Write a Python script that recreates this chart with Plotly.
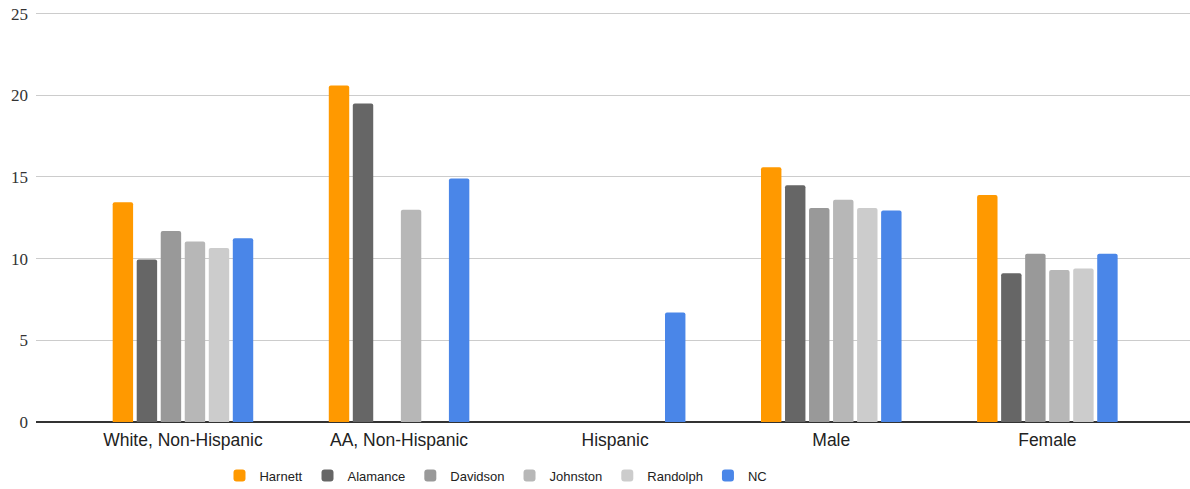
import plotly.graph_objects as go

categories = ["White, Non-Hispanic", "AA, Non-Hispanic", "Hispanic", "Male", "Female"]
series_names = ["Harnett", "Alamance", "Davidson", "Johnston", "Randolph", "NC"]
harnett = [13.45, 20.6, None, 15.6, 13.9]
alamance = [9.95, 19.5, None, 14.5, 9.1]
davidson = [11.7, None, None, 13.1, 10.3]
johnston = [11.05, 13.0, None, 13.6, 9.3]
randolph = [10.65, None, None, 13.1, 9.4]
nc = [11.25, 14.9, 6.7, 12.95, 10.3]
colors = ["#FF9900", "#666666", "#999999", "#B7B7B7", "#CCCCCC", "#4A86E8"]
y_ticks = [0, 5, 10, 15, 20, 25]

values = [harnett, alamance, davidson, johnston, randolph, nc]

fig = go.Figure()
for name, vals, col in zip(series_names, values, colors):
    fig.add_trace(go.Bar(x=categories, y=vals, name=name, marker=dict(color=col, line=dict(width=0))))

fig.update_layout(
    width=1190, height=489,
    margin=dict(l=36, r=0, t=12, b=67, autoexpand=False),
    paper_bgcolor="white", plot_bgcolor="white",
    barmode="group", bargap=0.333, bargroupgap=0.15,
    barcornerradius=2,
    font=dict(family="Liberation Sans, Arial, sans-serif", color="#222222"),
    xaxis=dict(range=[-0.68, 4.66], showgrid=False, showline=False, ticks="",
               tickfont=dict(size=17.5, color="#222222"), ticklabelstandoff=5),
    yaxis=dict(range=[0, 25.1], tickvals=y_ticks, showgrid=True, gridcolor="#CCCCCC", gridwidth=1,
               zeroline=True, zerolinecolor="#333333", zerolinewidth=1.5,
               tickfont=dict(family="Liberation Serif, Times New Roman, serif", size=17, color="#333333"),
               ticklabelstandoff=7),
    legend=dict(orientation="h", x=0.3986, xanchor="center", y=-0.0942, yanchor="top",
                font=dict(size=13, color="#222222"), itemwidth=30),
    showlegend=True,
)

fig.write_html("out.html", config={"displayModeBar": False},
               post_script="document.body.style.margin='0';document.body.style.overflow='hidden';")
